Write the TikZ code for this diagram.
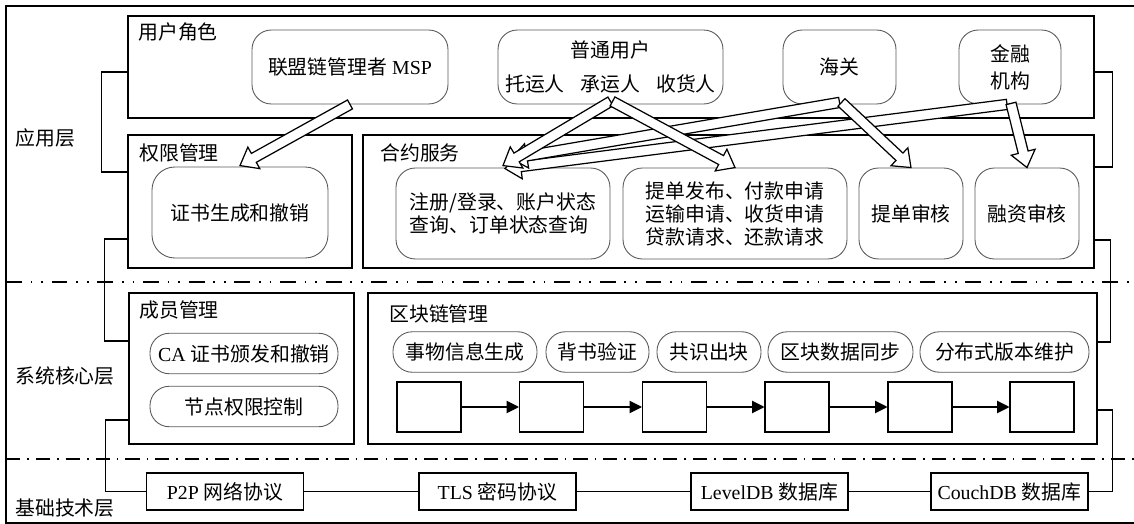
\documentclass[tikz,border=0pt]{standalone}
\usepackage{fontspec}
\setmainfont{Liberation Serif}
\newfontfamily\cjk{Noto Sans CJK SC}
\usetikzlibrary{calc,fit,arrows.meta}
\newcommand{\zh}[1]{{\cjk #1}}
\newcommand{\harrow}[2]{%
  \coordinate (hs) at (#1);
  \coordinate (ht) at (#2);
  \coordinate (hb) at ($(ht)!9pt!(hs)$);
  \draw[hollow] ($(hs)!2.9pt!90:(ht)$) -- ($(hb)!2.9pt!-90:(hs)$) -- ($(hb)!7pt!-90:(hs)$) -- (ht)
     -- ($(hb)!7pt!90:(hs)$) -- ($(hb)!2.9pt!90:(hs)$) -- ($(hs)!2.9pt!-90:(ht)$) -- cycle;
}
\begin{document}
\begin{tikzpicture}[x=0.02cm,y=-0.02cm,
  every node/.style={font=\fontsize{11.3pt}{13.1pt}\selectfont, inner sep=0pt},
  grp/.style={draw, line width=0.8pt, inner sep=0pt},
  rbox/.style={draw=black!65, line width=0.5pt, rounded corners=11pt, inner sep=0pt},
  sbox/.style={draw=black!65, line width=0.5pt, rounded corners=11pt, inner sep=0pt, minimum height=0.81cm},
  blk/.style={draw, line width=0.6pt, minimum width=1.28cm, minimum height=1cm},
  proto/.style={draw, line width=0.8pt, minimum height=0.74cm, minimum width=3.14cm},
  conn/.style={line width=0.6pt},
  chainarrow/.style={line width=0.6pt, -{Triangle[length=7pt,width=7pt]}},
  hollow/.style={draw, fill=white, line width=0.7pt, line join=miter},
  sepA/.style={line width=0.6pt, dash pattern=on 9pt off 5pt on 1pt off 5pt on 1pt off 5pt},
  sepB/.style={line width=0.6pt, dash pattern=on 8pt off 4pt on 1pt off 4pt},
  lbl/.style={anchor=west}
]
\useasboundingbox (0,0) rectangle (1134,524);
% outer frame
\draw[line width=1.1pt] (6,6) rectangle (1145,523);
% layer separators
\draw[sepA] (6,282) -- (1134,282);
\draw[sepB] (6,459) -- (1134,459);
% layer labels
\node[lbl] (l1) at (15,138) {\zh{应用层}};
\node[lbl] (l2) at (15,376) {\zh{系统核心层}};
\node[lbl] (l3) at (15,508) {\zh{基础技术层}};

% group boxes
\node[grp, fit={(128,16) (1094,118)}] (user) {};
\node[grp, fit={(128,135) (352,268)}] (perm) {};
\node[grp, fit={(363,135) (1094,268)}] (contract) {};
\node[grp, fit={(129,293) (354,444)}] (member) {};
\node[grp, fit={(368,293) (1097,444)}] (chain) {};

\node[lbl] (tuser) at (138,32) {\zh{用户角色}};
\node[lbl] (tperm) at (139,153) {\zh{权限管理}};
\node[lbl] (tcon) at (380,153) {\zh{合约服务}};
\node[lbl] (tmem) at (139,310) {\zh{成员管理}};
\node[lbl] (tchain) at (389,314) {\zh{区块链管理}};

% user roles
\node[rbox, minimum width=3.92cm, minimum height=1.48cm] (msp) at (350,67) {\zh{联盟链管理者} MSP};
\node[rbox, minimum width=4.5cm, minimum height=1.48cm, align=center] (ord) at (610.5,67) {\zh{普通用户}\\[5.8pt]\zh{托运人\hspace{0.8em}承运人\hspace{0.8em}收货人}};
\node[rbox, minimum width=2.26cm, minimum height=1.48cm] (cust) at (839.5,67) {\zh{海关}};
\node[rbox, minimum width=2.04cm, minimum height=1.48cm, align=center] (fin) at (1010,67) {\zh{金融}\\[2.4pt]\zh{机构}};

% permission
\node[rbox, rounded corners=13pt, minimum width=3.52cm, minimum height=1.82cm] (cert) at (240,212.5) {\zh{证书生成和撤销}};

% contract services
\node[rbox, minimum width=4.28cm, minimum height=1.82cm, align=left] (r1) at (503,213.5) {\zh{注册/登录、账户状态}\\\zh{查询、订单状态查询}};
\node[rbox, minimum width=4.48cm, minimum height=1.82cm, align=left] (r2) at (735,213.5) {\zh{提单发布、付款申请}\\\zh{运输申请、收货申请}\\\zh{贷款请求、还款请求}};
\node[rbox, minimum width=2.08cm, minimum height=1.82cm] (r3) at (911,213.5) {\zh{提单审核}};
\node[rbox, minimum width=2.08cm, minimum height=1.82cm] (r4) at (1027,213.5) {\zh{融资审核}};

% member management
\node[sbox, minimum width=3.76cm] (ca) at (244,353.5) {CA \zh{证书颁发和撤销}};
\node[sbox, minimum width=3.76cm] (nd) at (244,406.5) {\zh{节点权限控制}};

% blockchain management
\node[sbox, minimum width=2.88cm] (s1) at (465,352) {\zh{事物信息生成}};
\node[sbox, minimum width=2.06cm] (s2) at (597.5,352) {\zh{背书验证}};
\node[sbox, minimum width=2.08cm] (s3) at (709,352) {\zh{共识出块}};
\node[sbox, minimum width=2.9cm] (s4) at (840.5,352) {\zh{区块数据同步}};
\node[sbox, minimum width=3.38cm] (s5) at (1004.5,352) {\zh{分布式版本维护}};

\node[blk] (b1) at (429,407) {};
\node[blk] (b2) at (551.5,407) {};
\node[blk] (b3) at (674.5,407) {};
\node[blk] (b4) at (797,407) {};
\node[blk] (b5) at (920,407) {};
\node[blk] (b6) at (1042,407) {};
\draw[chainarrow] (b1) -- (b2);
\draw[chainarrow] (b2) -- (b3);
\draw[chainarrow] (b3) -- (b4);
\draw[chainarrow] (b4) -- (b5);
\draw[chainarrow] (b5) -- (b6);

% protocols
\node[proto] (p2p) at (225,491.5) {P2P \zh{网络协议}};
\node[proto] (tls) at (497.5,491.5) {TLS \zh{密码协议}};
\node[proto] (lvl) at (769.5,491.5) {LevelDB \zh{数据库}};
\node[proto] (couch) at (1009.5,491.5) {CouchDB \zh{数据库}};
\draw[conn] (p2p) -- (tls);
\draw[conn] (tls) -- (lvl);
\draw[conn] (lvl) -- (couch);

% brackets
\draw[conn] ([shift={(0,5)}]user.west) -- ++(-26,0) |- ([shift={(0,-29.5)}]perm.west);
\draw[conn] ([shift={(0,37.5)}]perm.west) -- ++(-23,0) |- ([shift={(0,-27.5)}]member.west);
\draw[conn] ([shift={(0,51.5)}]member.west) -- ++(-23,0) |- (p2p.west);
\draw[conn] ([shift={(0,5)}]user.east) -- ++(18,0) |- ([shift={(0,-34.5)}]contract.east);
\draw[conn] ([shift={(0,38.5)}]contract.east) -- ++(16,0) |- ([shift={(0,-26.5)}]chain.east);
\draw[conn] ([shift={(0,41.5)}]chain.east) -- ++(15,0) |- (couch.east);

% hollow arrows
\harrow{[shift={(-3,0)}]fin.south}{[shift={(2,1)}]r1.north}
\harrow{[shift={(0,-2)}]cust.south}{[shift={(8,-9)}]r1.north}
\harrow{[shift={(0,-3)}]ord.south}{[shift={(0,-2)}]r1.north}
\harrow{[shift={(2,-3)}]ord.south}{r2.north}
\harrow{[shift={(2,-2)}]cust.south}{r3.north}
\harrow{[shift={(1,-1)}]fin.south}{r4.north}
\harrow{msp.south}{[shift={(0,-1)}]cert.north}
\end{tikzpicture}
\end{document}
